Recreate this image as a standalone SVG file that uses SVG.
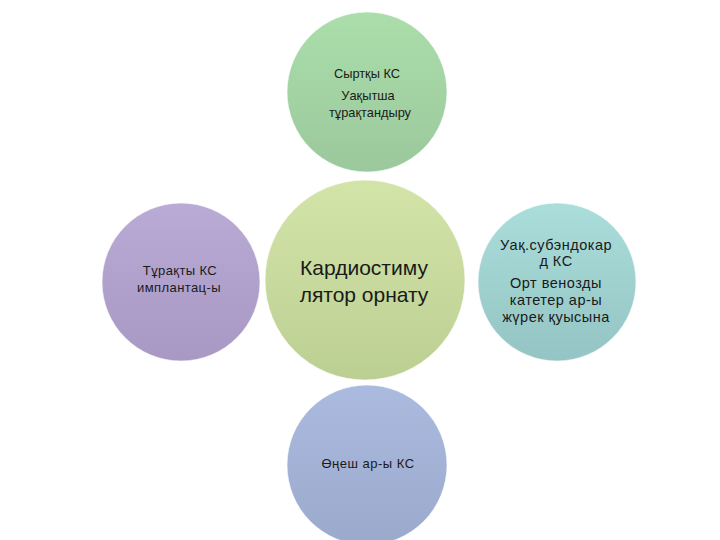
<svg xmlns="http://www.w3.org/2000/svg" width="720" height="540" viewBox="0 0 720 540">
<defs>
<linearGradient id="gTop" x1="0" y1="0" x2="0" y2="1"><stop offset="0" stop-color="#abdeab"/><stop offset="1" stop-color="#9bc89c"/></linearGradient>
<linearGradient id="gCenter" x1="0" y1="0" x2="0" y2="1"><stop offset="0" stop-color="#d3e4a8"/><stop offset="1" stop-color="#bccf92"/></linearGradient>
<linearGradient id="gLeft" x1="0" y1="0" x2="0" y2="1"><stop offset="0" stop-color="#b9aad6"/><stop offset="1" stop-color="#a898c3"/></linearGradient>
<linearGradient id="gRight" x1="0" y1="0" x2="0" y2="1"><stop offset="0" stop-color="#aadedb"/><stop offset="1" stop-color="#94c4c3"/></linearGradient>
<linearGradient id="gBottom" x1="0" y1="0" x2="0" y2="1"><stop offset="0" stop-color="#abbbdf"/><stop offset="1" stop-color="#9aa9cc"/></linearGradient>
</defs>
<style>
text{font-family:"Liberation Sans","DejaVu Sans",sans-serif;fill:#1a1a1a;text-anchor:middle}
.s{font-size:12.8px}
.l{font-size:13px;letter-spacing:0.4px}
.b{font-size:13px;letter-spacing:0.5px}
.r{font-size:14.5px;letter-spacing:0.5px}
.big{font-size:21px}
circle{stroke:#ffffff;stroke-opacity:0.6;stroke-width:1}
</style>
<rect width="720" height="540" fill="#ffffff"/>
<g id="connectors"></g>
<g id="node-top">
<circle cx="367" cy="92" r="80" fill="url(#gTop)"/>
<text class="s" x="367" y="78">Сыртқы КС</text>
<text class="s" x="368" y="100">Уақытша</text>
<text class="s" x="370" y="117">тұрақтандыру</text>
</g>
<g id="node-center">
<circle cx="365" cy="280" r="100" fill="url(#gCenter)"/>
<text class="big" x="364" y="275">Кардиостиму</text>
<text class="big" x="364" y="302">лятор орнату</text>
</g>
<g id="node-left">
<circle cx="181" cy="282" r="79" fill="url(#gLeft)"/>
<text class="l" x="180" y="275">Тұрақты КС</text>
<text class="l" x="179" y="292">имплантац-ы</text>
</g>
<g id="node-right">
<circle cx="557" cy="282" r="79" fill="url(#gRight)"/>
<text class="r" x="556" y="250">Уақ.субэндокар</text>
<text class="r" x="556" y="266">д КС</text>
<text class="r" x="556" y="288">Орт венозды</text>
<text class="r" x="556" y="305">катетер ар-ы</text>
<text class="r" x="556" y="322">жүрек қуысына</text>
</g>
<g id="node-bottom">
<circle cx="367" cy="465" r="80" fill="url(#gBottom)"/>
<text class="b" x="368" y="468">Өңеш ар-ы КС</text>
</g>
</svg>
